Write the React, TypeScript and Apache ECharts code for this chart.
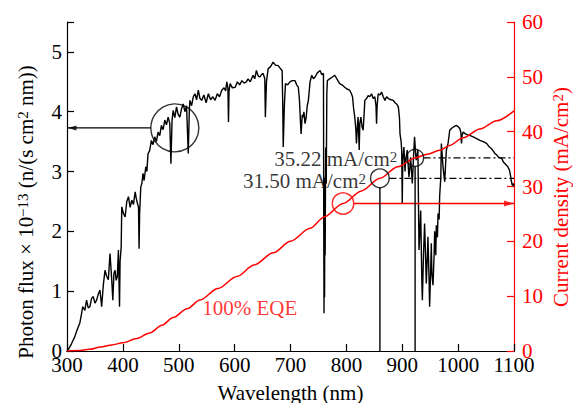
import React, { useEffect, useRef } from 'react';
import * as echarts from 'echarts';

const FONT = 'Liberation Serif, serif';
const RED = '#ff0000';

// Axis ranges / ticks
const xRange = [300, 1100];
const xInterval = 100;
const fluxRange = [0, 5.5];
const fluxInterval = 1;
const jscRange = [0, 60];
const jscInterval = 10;

// AM1.5G photon flux (x 1e-13 n/(s cm2 nm)): [wavelength nm, flux]
const photonFlux: [number, number][] = [
  [300, 0.0], [302, 0.02], [308, 0.12], [314, 0.24], [318, 0.35], [323, 0.47], [326, 0.62], [328, 0.74],
  [332, 0.68], [335, 0.85], [338, 0.72], [341, 0.74], [344, 0.88], [347, 0.91], [350, 0.8], [353, 0.85],
  [356, 0.95], [359, 1.02], [362, 0.74], [365, 1.1], [368, 1.35], [371, 1.25], [374, 1.19], [377, 1.63],
  [380, 1.2], [382, 0.85], [384, 1.3], [386, 1.35], [388, 1.18], [390, 1.24], [392, 1.69], [393, 1.2],
  [394, 0.74], [395, 1.5], [397, 1.74], [398, 2.41], [401, 2.3], [404, 2.24], [407, 2.5], [410, 2.58],
  [413, 2.4], [416, 2.52], [419, 2.45], [422, 2.66], [424, 2.55], [426, 2.47], [428, 2.4], [429, 1.71],
  [430, 2.3], [432, 2.74], [434, 2.8], [436, 2.97], [438, 2.85], [441, 3.08], [443, 3.0], [445, 3.3],
  [448, 3.35], [451, 3.52], [454, 3.45], [457, 3.58], [460, 3.5], [463, 3.66], [466, 3.6], [469, 3.77],
  [472, 3.7], [475, 3.86], [478, 3.78], [481, 3.91], [484, 3.8], [486, 3.13], [488, 3.85], [490, 4.02],
  [493, 3.9], [496, 4.08], [499, 3.95], [502, 3.91], [505, 4.05], [508, 4.13], [511, 4.0], [514, 4.1],
  [517, 3.3], [519, 4.05], [520, 4.19], [523, 4.1], [526, 4.25], [529, 4.3], [532, 4.2], [535, 4.36],
  [538, 4.22], [541, 4.19], [545, 4.28], [549, 4.15], [553, 4.3], [557, 4.2], [561, 4.25], [565, 4.19],
  [569, 4.3], [573, 4.25], [577, 4.36], [581, 4.4], [584, 4.35], [586, 4.5], [588, 4.4], [589, 3.83],
  [590, 4.35], [592, 4.47], [596, 4.4], [601, 4.41], [605, 4.5], [609, 4.45], [613, 4.52], [617, 4.48],
  [621, 4.5], [624, 4.55], [628, 4.5], [633, 4.61], [636, 4.55], [639, 4.69], [642, 4.6], [645, 4.58],
  [648, 4.62], [651, 4.64], [654, 4.55], [655, 3.91], [657, 4.5], [660, 4.72], [664, 4.75], [669, 4.83],
  [673, 4.78], [678, 4.77], [682, 4.72], [685, 4.69], [686, 4.2], [687, 3.41], [689, 4.1], [691, 4.47],
  [695, 4.45], [699, 4.5], [703, 4.52], [708, 4.52], [711, 4.45], [714, 4.41], [716, 4.2], [718, 3.8],
  [719, 3.63], [721, 3.95], [723, 3.91], [724, 4.0], [726, 3.8], [728, 3.9], [730, 4.1], [732, 4.19],
  [735, 4.5], [738, 4.61], [741, 4.55], [744, 4.58], [748, 4.65], [753, 4.69], [756, 4.62], [759, 4.64],
  [759.5, 2.2], [760, 0.63], [760.5, 2.6], [761, 0.9], [761.5, 2.9], [762, 1.6], [763, 3.4], [764, 2.8],
  [765, 4.3], [766, 4.52], [770, 4.55], [775, 4.58],
  [779, 4.61], [783, 4.55], [788, 4.47], [792, 4.45], [797, 4.41], [801, 4.38], [806, 4.36], [809, 4.3],
  [811, 4.25], [813, 4.05], [815, 3.91], [817, 3.7], [818, 3.47], [820, 3.8], [821, 3.91], [823, 3.36],
  [824, 3.8], [826, 3.91], [828, 3.75], [830, 3.69], [832, 4.0], [833, 4.19], [836, 4.22], [839, 4.27],
  [842, 4.25], [845, 4.3], [848, 4.22], [851, 4.25], [853, 4.1], [854, 3.8], [855, 4.1], [857, 4.3],
  [860, 4.28], [863, 4.33], [866, 4.25], [869, 4.19], [872, 4.25], [875, 4.22], [880, 4.2], [884, 4.19],
  [887, 4.15], [890, 4.13], [893, 4.08], [895, 3.9], [896, 3.63], [898, 3.5], [899, 3.36], [900, 2.47],
  [901, 3.2], [903, 3.41], [905, 3.0], [906, 3.19], [908, 3.3], [909, 3.36], [911, 3.05], [912, 2.91],
  [914, 3.1], [915, 3.24], [917, 2.95], [918, 2.8], [920, 3.2], [922, 3.58], [924, 3.3], [925, 3.19],
  [927, 3.3], [928, 3.36], [930, 1.69], [932, 2.1], [933, 2.35], [935, 1.2], [936, 0.85], [938, 1.6],
  [940, 2.13], [942, 1.5], [943, 1.13], [945, 1.6], [946, 1.91], [948, 1.2], [949, 0.74], [951, 1.4],
  [952, 1.8], [953, 1.3], [955, 1.1], [957, 1.6], [958, 2.0], [960, 1.6], [961, 2.1], [963, 1.9],
  [964, 2.3], [966, 2.2], [967, 2.6], [969, 2.9], [970, 3.47], [972, 3.2], [973, 3.08], [975, 2.9],
  [976, 2.83], [978, 3.2], [979, 3.36], [982, 3.47], [985, 3.69], [988, 3.72], [991, 3.74], [994, 3.76],
  [997, 3.77], [1000, 3.75], [1003, 3.72], [1005, 3.65], [1006, 3.47], [1007, 3.6], [1009, 3.66], [1013, 3.63],
  [1018, 3.61], [1022, 3.6], [1027, 3.58], [1033, 3.55], [1039, 3.52], [1045, 3.5], [1051, 3.47], [1055, 3.42],
  [1060, 3.38], [1063, 3.34], [1066, 3.3], [1069, 3.28], [1072, 3.24], [1075, 3.23], [1078, 3.22], [1081, 3.16],
  [1084, 3.13], [1087, 3.1], [1089, 3.08], [1091, 3.04], [1092, 3.02], [1094, 2.92], [1095, 2.85], [1097, 2.77],
  [1099, 2.8], [1100, 2.75],
];

// Cumulative current density at 100% EQE (mA/cm2): [wavelength nm, J]
const currentDensity: [number, number][] = [
  [300, 0], [320, 0.08], [340, 0.3], [360, 0.72], [380, 1.1], [400, 1.5], [425, 2.3], [448, 3.3],
  [470, 4.7], [490, 6.1], [515, 7.7], [538, 9.3], [570, 11.4], [604, 13.6], [635, 15.7], [669, 17.9],
  [700, 20.0], [735, 22.4], [761, 24.5], [794, 26.9], [827, 29.2], [860, 31.5], [892, 33.6], [923, 35.22],
  [945, 35.9], [967, 36.6], [985, 37.5], [1009, 38.9], [1039, 40.5], [1069, 42.0], [1100, 43.8],
];

// Annotations (data coordinates)
const fluxCircle: [number, number] = [493, 3.73];
const fluxArrow: [number, number][] = [[450, 3.73], [300, 3.73]];
const fluxArrowHead: [number, number] = [309, 3.73];
const jscCircle: [number, number] = [794, 26.9];
const jscArrow: [number, number][] = [[813, 26.9], [1100, 26.9]];
const jscArrowHead: [number, number] = [1091, 26.9];
const markedPoints: [number, number][] = [[860, 31.5], [923, 35.22]];
const markedSizes = [18.6, 17];
const dashDotLines: [number, number][][] = [
  [[877, 31.5], [1100, 31.5]],
  [[938, 35.22], [1100, 35.22]],
];
const dropLines: [number, number][][] = [
  [[860, 29.8], [860, 0]],
  [[923, 33.67], [923, 0]],
];
const valueLabels = [
  { at: [892, 35.1], text: '35.22 mA/cm{sup|2}' },
  { at: [836, 31.0], text: '31.50 mA/cm{sup|2}' },
];
const eqeLabel = { at: [541, 7.85], text: '100% EQE' };

const xTitle = 'Wavelength (nm)';
const fluxTitle = 'Photon flux × 10{sup|−13} (n/(s cm{sup|2} nm))';
const jscTitle = 'Current density (mA/cm{sup|2})';

const supStyle = (color: string) => ({
  fontFamily: FONT,
  fontSize: 15,
  lineHeight: 17,
  verticalAlign: 'top',
  color,
  fill: color,
});

function buildOption(): any {
  const axisFont = { fontFamily: FONT, fontSize: 21 };
  const lineSeries = (data: any, yAxisIndex: number, color: string, width: number, type: any = 'solid') => ({
    type: 'line',
    xAxisIndex: 0,
    yAxisIndex,
    data,
    symbol: 'none',
    silent: true,
    lineStyle: { color, width, type },
    z: 4,
  });
  return {
    animation: false,
    backgroundColor: '#fff',
    grid: { left: 67, right: 59, top: 22, bottom: 52, containLabel: false, outerBoundsMode: 'none' },
    xAxis: [
      {
        type: 'value',
        position: 'bottom',
        min: xRange[0],
        max: xRange[1],
        interval: xInterval,
        name: xTitle,
        nameLocation: 'middle',
        nameGap: 31,
        nameTextStyle: { ...axisFont, color: '#000' },
        axisLine: { show: true, lineStyle: { color: '#000', width: 1.2 } },
        axisTick: { show: true, inside: true, length: 7, lineStyle: { color: '#000', width: 1.2 } },
        axisLabel: { ...axisFont, color: '#000', margin: 7, lineHeight: 14, formatter: (v: number) => String(v) },
        splitLine: { show: false },
      },
      {
        type: 'value',
        position: 'top',
        min: xRange[0],
        max: xRange[1],
        interval: xInterval,
        axisLine: { show: true, lineStyle: { color: '#000', width: 1.2 } },
        axisTick: { show: false },
        axisLabel: { show: false },
        splitLine: { show: false },
      },
    ],
    yAxis: [
      {
        type: 'value',
        position: 'left',
        min: fluxRange[0],
        max: fluxRange[1],
        interval: fluxInterval,
        axisLine: { show: true, lineStyle: { color: '#000', width: 1.2 } },
        axisTick: { show: true, inside: true, length: 7, lineStyle: { color: '#000', width: 1.2 } },
        axisLabel: {
          ...axisFont,
          color: '#000',
          margin: 5,
          lineHeight: 14,
          formatter: (v: number) => (Number.isInteger(v) ? String(v) : ''),
        },
        splitLine: { show: false },
      },
      {
        type: 'value',
        position: 'right',
        min: jscRange[0],
        max: jscRange[1],
        interval: jscInterval,
        axisLine: { show: true, lineStyle: { color: RED, width: 1.2 } },
        axisTick: { show: true, inside: true, length: 7, lineStyle: { color: RED, width: 1.2 } },
        axisLabel: { ...axisFont, color: RED, margin: 8, lineHeight: 14, formatter: (v: number) => String(v) },
        splitLine: { show: false },
      },
    ],
    graphic: [
      {
        type: 'text',
        x: 26,
        y: 212,
        rotation: Math.PI / 2,
        silent: true,
        style: {
          text: fluxTitle,
          fontFamily: FONT,
          fontSize: 21,
          lineHeight: 22,
          fill: '#000',
          align: 'center',
          verticalAlign: 'middle',
          textAlign: 'center',
          textVerticalAlign: 'middle',
          rich: { sup: supStyle('#000') },
        },
      },
      {
        type: 'text',
        x: 561,
        y: 197,
        rotation: Math.PI / 2,
        silent: true,
        style: {
          text: jscTitle,
          fontFamily: FONT,
          fontSize: 21,
          lineHeight: 22,
          fill: RED,
          align: 'center',
          verticalAlign: 'middle',
          textAlign: 'center',
          textVerticalAlign: 'middle',
          rich: { sup: supStyle(RED) },
        },
      },
    ],
    series: [
      { ...lineSeries(photonFlux, 0, '#000', 1.4), z: 3 },
      { ...lineSeries(currentDensity, 1, RED, 1.5), smooth: 0.3, smoothMonotone: 'x' },
      lineSeries(fluxArrow, 0, '#000', 1.3),
      lineSeries(jscArrow, 1, RED, 1.4),
      ...dashDotLines.map((d) => lineSeries(d, 1, '#000', 1.2, [7, 3, 2, 3])),
      ...dropLines.map((d) => lineSeries(d, 1, '#000', 1.4)),
      {
        type: 'scatter',
        xAxisIndex: 0,
        yAxisIndex: 0,
        silent: true,
        z: 5,
        data: [fluxCircle],
        symbol: 'circle',
        symbolSize: 48,
        itemStyle: { color: 'rgba(0,0,0,0)', borderColor: '#000', borderWidth: 1.4 },
      },
      {
        type: 'scatter',
        xAxisIndex: 0,
        yAxisIndex: 1,
        silent: true,
        z: 5,
        symbol: 'circle',
        data: [
          { value: jscCircle, symbolSize: 21.4, itemStyle: { color: 'rgba(0,0,0,0)', borderColor: RED, borderWidth: 1.5 } },
          ...markedPoints.map((p, i) => ({
            value: p,
            symbolSize: markedSizes[i],
            itemStyle: { color: 'rgba(0,0,0,0)', borderColor: '#000', borderWidth: 1.4 },
          })),
        ],
      },
      {
        type: 'scatter',
        xAxisIndex: 0,
        yAxisIndex: 0,
        silent: true,
        z: 6,
        data: [fluxArrowHead],
        symbol: 'triangle',
        symbolSize: [5, 9],
        symbolRotate: 90,
        itemStyle: { color: '#000' },
      },
      {
        type: 'scatter',
        xAxisIndex: 0,
        yAxisIndex: 1,
        silent: true,
        z: 6,
        data: [jscArrowHead],
        symbol: 'triangle',
        symbolSize: [6, 10],
        symbolRotate: -90,
        itemStyle: { color: RED },
      },
      {
        type: 'scatter',
        xAxisIndex: 0,
        yAxisIndex: 1,
        silent: true,
        z: 7,
        symbolSize: 1,
        itemStyle: { color: 'rgba(0,0,0,0)' },
        data: [
          ...valueLabels.map((l) => ({
            value: l.at,
            label: {
              show: true,
              position: 'left',
              distance: 0,
              formatter: l.text,
              color: '#000',
              fontFamily: FONT,
              fontSize: 21,
              lineHeight: 19,
              rich: { sup: supStyle('#000') },
            },
          })),
          {
            value: eqeLabel.at,
            label: {
              show: true,
              position: 'right',
              distance: 0,
              formatter: eqeLabel.text,
              color: RED,
              fontFamily: FONT,
              fontSize: 21,
              lineHeight: 19,
            },
          },
        ],
      },
    ],
  };
}

export default function App() {
  const ref = useRef<HTMLDivElement>(null);
  useEffect(() => {
    if (!ref.current) return;
    const chart = echarts.init(ref.current, undefined, { renderer: 'svg' });
    chart.setOption(buildOption());
    return () => chart.dispose();
  }, []);
  return (
    <div
      ref={ref}
      style={{ position: 'fixed', left: 0, top: 0, width: 573, height: 403, background: '#fff' }}
    />
  );
}
